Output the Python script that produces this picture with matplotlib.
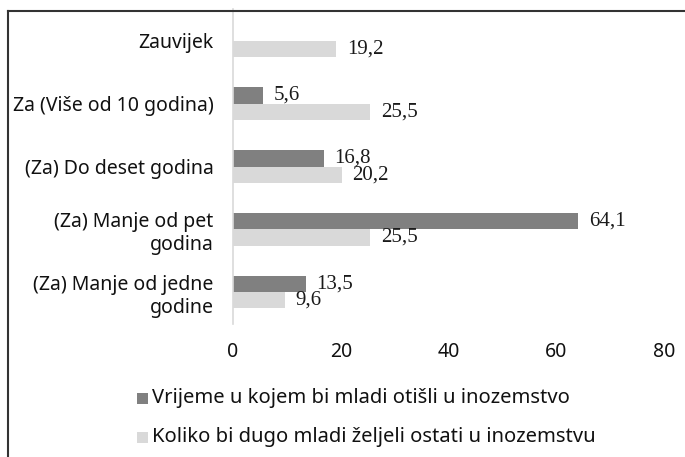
import matplotlib
matplotlib.use("Agg")
import matplotlib.pyplot as plt
import numpy as np
from matplotlib.patches import Rectangle
from matplotlib.lines import Line2D

categories = ["Zauvijek", "Za (Više od 10 godina)", "(Za) Do deset godina",
              "(Za) Manje od pet\ngodina", "(Za) Manje od jedne\ngodine"]
series_names = ["Vrijeme u kojem bi mladi otišli u inozemstvo",
                "Koliko bi dugo mladi željeli ostati u inozemstvu"]
dark_vals = [np.nan, 5.6, 16.8, 64.1, 13.5]
light_vals = [19.2, 25.5, 20.2, 25.5, 9.6]
xticks = [0, 20, 40, 60, 80]

DARK = "#808080"
LIGHT = "#d9d9d9"
SANS = "Noto Sans"
SERIF = "Liberation Serif"
W, H = 685, 457

fig = plt.figure(figsize=(W / 100, H / 100), dpi=100)
ax = fig.add_axes([233 / W, 1 - 323.5 / H, (664 - 233) / W, (323.5 - 9.5) / H])

y = np.arange(len(categories))
h = 0.26
ax.barh(y - h / 2, dark_vals, height=h, color=DARK)
ax.barh(y + h / 2, light_vals, height=h, color=LIGHT)

def fmt(v):
    return f"{v:.1f}".replace(".", ",")

for yi, v in zip(y, dark_vals):
    if not np.isnan(v):
        ax.text(v + 2.0, yi - h / 2, fmt(v), va="center", ha="left",
                fontsize=15, family=SERIF, color="#1a1a1a")
for yi, v in zip(y, light_vals):
    ax.text(v + 2.0, yi + h / 2, fmt(v), va="center", ha="left",
            fontsize=15, family=SERIF, color="#1a1a1a")

ax.set_xlim(0, 80)
ax.set_ylim(len(categories) - 0.5, -0.5)
ax.set_xticks(xticks)
ax.set_xticklabels([str(t) for t in xticks], family=SANS, fontsize=14)
ax.set_yticks(y)
ax.set_yticklabels(categories, family=SANS, fontsize=14, linespacing=1.2)
ax.tick_params(axis="both", length=0, colors="#111111")
ax.tick_params(axis="x", pad=13)
ax.tick_params(axis="y", pad=14)
for s in ["top", "right", "bottom"]:
    ax.spines[s].set_visible(False)
ax.spines["left"].set_color(LIGHT)
ax.spines["left"].set_linewidth(1.2)

# legend rows
for i, (name, col) in enumerate(zip(series_names, [DARK, LIGHT])):
    yc = [398, 437][i]
    fig.add_artist(Rectangle((137 / W, 1 - (yc + 5.5) / H), 11 / W, 11 / H,
                             transform=fig.transFigure, color=col, lw=0))
    fig.text(152 / W, 1 - yc / H, name, family=SANS, fontsize=14.5,
             va="center", ha="left", color="#111111")

# outer frame (top and left edges visible)
fig.add_artist(Line2D([8 / W, 1], [1 - 10.5 / H, 1 - 10.5 / H],
                      transform=fig.transFigure, color="#333333", lw=1.5))
fig.add_artist(Line2D([8 / W, 8 / W], [0, 1 - 10.5 / H],
                      transform=fig.transFigure, color="#333333", lw=1.5))

fig.savefig("out.png", dpi=100)
